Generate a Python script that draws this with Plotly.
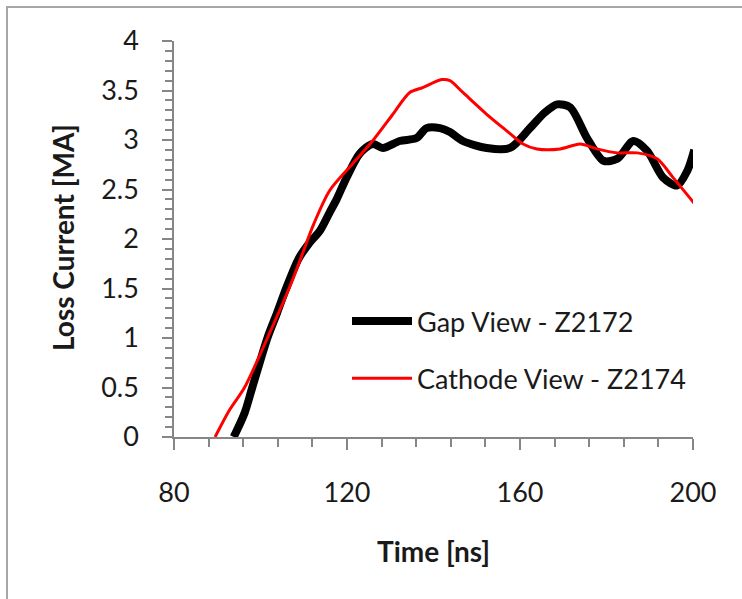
import plotly.graph_objects as go

# ---- data ----
gap_time = [93.8, 96.3, 98.1, 101.6, 103.8, 106.0, 108.8, 111.3, 113.7, 116.0, 117.6, 119.9,
            122.9, 125.9, 128.3, 132.2, 136.1, 138.4, 141.5, 143.8, 146.8, 152.3, 157.7,
            162.3, 165.8, 168.6, 171.6, 175.5, 179.3, 182.5, 186.2, 189.4, 193.1, 196.3,
            198.7, 200.3]
gap_current = [0.0, 0.24, 0.5, 1.0, 1.25, 1.51, 1.80, 1.96, 2.08, 2.27, 2.40, 2.62,
               2.86, 2.96, 2.92, 2.99, 3.02, 3.12, 3.12, 3.08, 2.99, 2.92, 2.92,
               3.12, 3.28, 3.36, 3.33, 3.02, 2.79, 2.81, 2.99, 2.89, 2.62, 2.54,
               2.69, 2.90]

cat_time = [89.5, 92.8, 96.3, 101.6, 106.7, 109.7, 112.3, 116.0, 121.3, 125.9, 130.6,
            134.5, 137.5, 141.9, 143.8, 146.8, 152.3, 157.0, 160.7, 163.9, 169.3, 173.9,
            177.8, 182.5, 187.1, 191.7, 195.4, 200.3]
cat_current = [0.0, 0.27, 0.5, 1.0, 1.51, 1.85, 2.15, 2.49, 2.76, 2.99, 3.26,
               3.48, 3.53, 3.61, 3.60, 3.48, 3.26, 3.09, 2.96, 2.91, 2.91, 2.96,
               2.91, 2.87, 2.87, 2.81, 2.62, 2.36]

series_names = ["Gap View - Z2172", "Cathode View - Z2174"]
x_ticks = [80, 120, 160, 200]
y_ticks = [0, 0.5, 1, 1.5, 2, 2.5, 3, 3.5, 4]
y_tick_text = ["0", "0.5", "1", "1.5", "2", "2.5", "3", "3.5", "4"]

W, H = 742, 599
L, R, T, B = 174, 49, 41, 162
pw, ph = W - L - R, H - T - B

AX = "#868686"
FONT = "Lato, 'Open Sans', sans-serif"

fig = go.Figure()
fig.add_trace(go.Scatter(x=gap_time, y=gap_current, mode="lines", name=series_names[0],
                         line=dict(color="black", width=8, shape="spline", smoothing=0.8),
                         legendgroup="a"))
fig.add_trace(go.Scatter(x=cat_time, y=cat_current, mode="lines", name=series_names[1],
                         line=dict(color="#ff0000", width=3, shape="spline", smoothing=0.8),
                         legendgroup="b"))

axis_common = dict(showgrid=False, zeroline=False, linecolor=AX, linewidth=1.5,
                   tickcolor=AX, tickwidth=1.5, showline=True,
                   tickfont=dict(family=FONT, size=27, color="#1a1a1a"))

fig.update_layout(
    width=W, height=H,
    margin=dict(l=L, r=R, t=T, b=B),
    paper_bgcolor="white", plot_bgcolor="white",
    font=dict(family=FONT, color="#1a1a1a"),
    xaxis=dict(range=[80, 200], tickvals=x_ticks, ticks="outside", ticklen=11,
               ticklabelstandoff=20,
               minor=dict(tick0=80, dtick=8, ticks="outside", ticklen=8,
                          tickcolor=AX, tickwidth=1.5),
               **axis_common),
    yaxis=dict(range=[0, 4], tickvals=y_ticks, ticktext=y_tick_text, ticks="outside",
               ticklen=10, ticklabelstandoff=18,
               minor=dict(tick0=0, dtick=0.1, ticks="outside", ticklen=7,
                          tickcolor=AX, tickwidth=1.5),
               **axis_common),
    xaxis2=dict(range=[80, 200], overlaying="x", anchor="y", side="bottom",
                tickvals=x_ticks, ticks="inside", ticklen=11, tickcolor=AX, tickwidth=1.5,
                showticklabels=False, showgrid=False, zeroline=False, showline=False),
    yaxis2=dict(range=[0, 4], overlaying="y", anchor="x", side="left",
                tickvals=y_ticks, ticks="inside", ticklen=11, tickcolor=AX, tickwidth=1.5,
                showticklabels=False, showgrid=False, zeroline=False, showline=False),
    legend=dict(x=(347 - L) / pw, y=(H - B - 297) / ph, xanchor="left", yanchor="top",
                bgcolor="rgba(0,0,0,0)", font=dict(family=FONT, size=27, color="#1a1a1a"),
                itemwidth=60, tracegroupgap=19, traceorder="grouped"),
    showlegend=True,
)

# axis titles
fig.add_annotation(text="<b>Time [ns]</b>", xref="paper", yref="paper",
                   x=(433 - L) / pw, y=(H - B - 551) / ph, showarrow=False,
                   xanchor="center", yanchor="middle",
                   font=dict(family=FONT, size=28, color="#1a1a1a"))
fig.add_annotation(text="<b>Loss Current [MA]</b>", xref="paper", yref="paper",
                   x=(63 - L) / pw, y=(H - B - 238) / ph, showarrow=False, textangle=-90,
                   xanchor="center", yanchor="middle",
                   font=dict(family=FONT, size=28, color="#1a1a1a"))

# outer chart frame
fig.add_shape(type="rect", xref="paper", yref="paper", layer="below",
              x0=(7 - L) / pw, x1=(760 - L) / pw,
              y0=(H - B - 620) / ph, y1=(H - B - 7) / ph,
              line=dict(color="#a6a6a6", width=2), fillcolor="rgba(0,0,0,0)")

fig.write_html("out.html")
